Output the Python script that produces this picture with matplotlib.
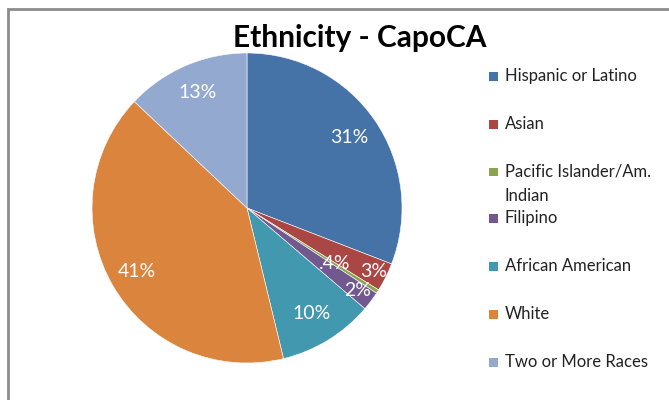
import matplotlib.pyplot as plt
import numpy as np
from matplotlib.patches import Rectangle

plt.rcParams['font.family'] = ['Lato', 'DejaVu Sans']

groups = ['Hispanic or Latino', 'Asian', 'Pacific Islander/Am.\nIndian', 'Filipino',
          'African American', 'White', 'Two or More Races']
shares = [31, 3, 0.4, 2, 10, 41, 13]
pct_labels = ['31%', '3%', '.4%', '2%', '10%', '41%', '13%']
colors = ['#4572A7', '#AA4643', '#89A54E', '#71588F', '#4198AF', '#DB843D', '#93A9CF']
label_r = [0.80, 0.91, 0.67, 0.89, 0.80, 0.82, 0.81]

W, H = 669, 400
fig = plt.figure(figsize=(W / 100, H / 100), dpi=100)

# chart border (gray frame, cut off at right/bottom)
fig.patches.append(Rectangle((7.5 / W, -0.05), 1.1, 1 - 8.5 / H + 0.05,
                             transform=fig.transFigure, fill=False,
                             edgecolor='#8c8c8c', linewidth=2))

cx, cy, r = 247, 208, 155
ax = fig.add_axes([(cx - r) / W, (H - cy - r) / H, 2 * r / W, 2 * r / H])
wedges, _ = ax.pie(shares, colors=colors, startangle=90, counterclock=False,
                   radius=1, wedgeprops=dict(edgecolor='white', linewidth=0.4))
ax.set_xlim(-1, 1)
ax.set_ylim(-1, 1)
ax.set_aspect('equal')

for w, lab, rr in zip(wedges, pct_labels, label_r):
    ang = np.deg2rad((w.theta1 + w.theta2) / 2)
    ax.text(rr * np.cos(ang), rr * np.sin(ang), lab, ha='center', va='center',
            color='white', fontsize=14)

fig.text(360 / W, 1 - 38 / H, 'Ethnicity - CapoCA', ha='center', va='center',
         fontsize=21.5, fontweight='bold', color='black')

# legend
leg_y = [76, 124, 172, 218, 266, 314, 362]
for g, c, y in zip(groups, colors, leg_y):
    fig.patches.append(Rectangle((489 / W, 1 - (y + 4.5) / H), 9 / W, 9 / H,
                                 transform=fig.transFigure, facecolor=c, edgecolor='none'))
    fig.text(505 / W, 1 - (y - 8) / H, g, ha='left', va='top', fontsize=12,
             color='#222222', linespacing=1.6)

fig.savefig('out.png', dpi=100)
